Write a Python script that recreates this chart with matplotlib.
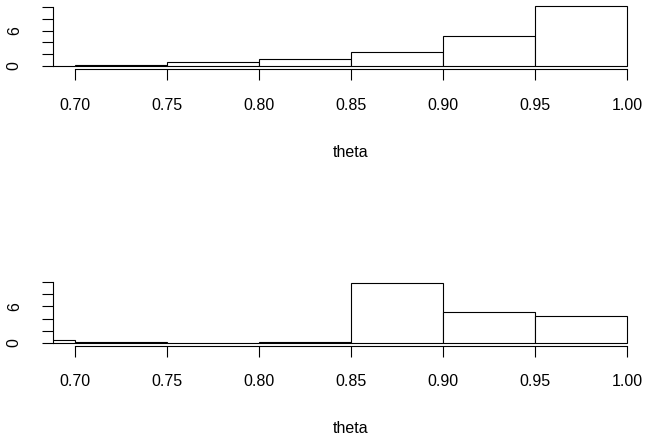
import numpy as np
import matplotlib
matplotlib.use('Agg')
import matplotlib.pyplot as plt

plt.rcParams['font.family'] = ['Liberation Sans', 'DejaVu Sans']

# bin left edges (width 0.05) and density heights for the two panels
bin_edges = [0.65, 0.70, 0.75, 0.80, 0.85, 0.90, 0.95]
bin_width = 0.05
dens_top = [0.03, 0.1, 0.64, 1.14, 2.3, 5.1, 10.2]
dens_bottom = [0.5, 0.15, 0.0, 0.05, 9.9, 5.0, 4.45]
xticks = [0.70, 0.75, 0.80, 0.85, 0.90, 0.95, 1.00]
xtick_labels = ['0.70', '0.75', '0.80', '0.85', '0.90', '0.95', '1.00']
yticks = [0, 2, 4, 6, 8, 10]
ytick_labels = ['0', '', '', '6', '', '']

W, H = 649, 443
fig = plt.figure(figsize=(W / 100, H / 100), dpi=100)


def panel(bottom_px, heights, ylim):
    ax = fig.add_axes([52.7 / W, 1 - bottom_px / H, 596.3 / W, 65.6 / H])
    ax.bar(bin_edges, heights, width=bin_width, align='edge',
           facecolor='white', edgecolor='black', linewidth=0.8)
    ax.set_xlim(0.6877, 1.0118)
    ax.set_ylim(ylim)
    for s in ['top', 'right']:
        ax.spines[s].set_visible(False)
    ax.spines['bottom'].set_bounds(0.70, 1.00)
    ax.spines['left'].set_bounds(0, 10)
    ax.spines['bottom'].set_linewidth(0.8)
    ax.spines['left'].set_linewidth(0.8)
    ax.set_xticks(xticks, xtick_labels)
    ax.set_yticks(yticks, ytick_labels)
    ax.tick_params(axis='x', length=8.2, width=0.8, pad=12.5, labelsize=11.5)
    ax.tick_params(axis='y', length=8.2, width=0.8, pad=14, labelsize=11.5)
    for lab in ax.get_yticklabels():
        lab.set_rotation(90)
        lab.set_va('center')
    ax.set_xlabel('theta', fontsize=11.5, labelpad=23)
    return ax


panel(69.0, dens_top, (-0.565, 10.67))
panel(345.7, dens_bottom, (-0.497, 10.36))

fig.savefig('out.png', dpi=100)
